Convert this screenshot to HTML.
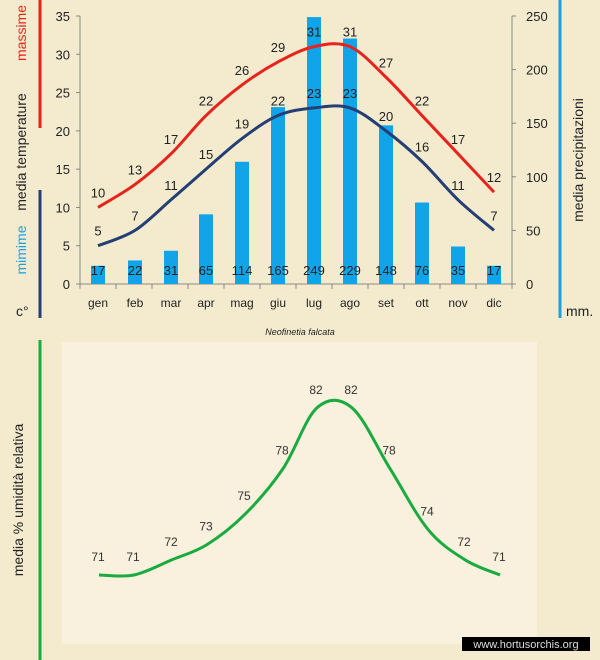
<!DOCTYPE html>
<html><head><meta charset="utf-8"><style>
body{margin:0;background:#f4ebcf;}
svg{display:block;font-family:"Liberation Sans",sans-serif;}
</style></head><body>
<svg id="s" width="600" height="660" xmlns="http://www.w3.org/2000/svg">
<rect width="600" height="660" fill="#f4ebcf"/>
<rect x="62" y="342" width="475" height="302" fill="#f9f1de"/>
<line x1="40" y1="0" x2="40" y2="128" stroke="#e8231c" stroke-width="3"/>
<line x1="40" y1="190" x2="40" y2="318" stroke="#243f73" stroke-width="3"/>
<line x1="40" y1="340" x2="40" y2="660" stroke="#1aab40" stroke-width="3"/>
<line x1="560" y1="0" x2="560" y2="318" stroke="#1ba0e0" stroke-width="3"/>
<text transform="translate(26,33) rotate(-90)" text-anchor="middle" font-size="14" fill="#e8231c">massime</text>
<text transform="translate(26,152) rotate(-90)" text-anchor="middle" font-size="14" fill="#222">media  temperature</text>
<text transform="translate(26,250) rotate(-90)" text-anchor="middle" font-size="14" fill="#1ba0e0">mimime</text>
<text x="16" y="316" font-size="14" fill="#222">c°</text>
<text transform="translate(583,160) rotate(-90)" text-anchor="middle" font-size="14" fill="#222">media  precipitazioni</text>
<text x="566" y="316" font-size="14" fill="#222">mm.</text>
<text x="300" y="335" text-anchor="middle" font-size="9" font-style="italic" fill="#222">Neofinetia falcata</text>
<text transform="translate(23,500) rotate(-90)" text-anchor="middle" font-size="14" fill="#222">media %  umidità relativa</text>
<rect x="462" y="637" width="128" height="14" fill="#000"/>
<text x="526" y="648" text-anchor="middle" font-size="11" fill="#ddd">www.hortusorchis.org</text>
<g id="g"></g>
</svg>
<script>
var g=document.getElementById('g'),h='';
var xs=[98,135,171,206,242,278,314,350,386,422,458,494];
var mo=['gen','feb','mar','apr','mag','giu','lug','ago','set','ott','nov','dic'];
var mx=[10,13,17,22,26,29,31,31,27,22,17,12],mn=[5,7,11,15,19,22,23,23,20,16,11,7];
var pr=[17,22,31,65,114,165,249,229,148,76,35,17];
var ty=v=>284-7.657*v, py=v=>284-1.072*v;
h+='<line x1="80" y1="16" x2="80" y2="284" stroke="#888"/>';
h+='<line x1="80" y1="284" x2="512" y2="284" stroke="#888"/>';
h+='<line x1="512" y1="16" x2="512" y2="284" stroke="#888"/>';
for(var i=0;i<=7;i++){var y=ty(i*5);h+='<line x1="76" y1="'+y+'" x2="80" y2="'+y+'" stroke="#888"/><text x="70" y="'+(y+5)+'" text-anchor="end" font-size="13" fill="#222">'+i*5+'</text>';}
for(var i=0;i<=5;i++){var y=py(i*50);h+='<line x1="512" y1="'+y+'" x2="516" y2="'+y+'" stroke="#888"/><text x="526" y="'+(y+5)+'" font-size="13" fill="#222">'+i*50+'</text>';}
for(var i=0;i<=12;i++){var x=80+i*36;h+='<line x1="'+x+'" y1="284" x2="'+x+'" y2="289" stroke="#888"/>';}
for(var i=0;i<12;i++){h+='<rect x="'+(xs[i]-7)+'" y="'+py(pr[i])+'" width="14" height="'+(284-py(pr[i]))+'" fill="#12a4e8"/>';
h+='<text x="'+xs[i]+'" y="307" text-anchor="middle" font-size="12" fill="#222">'+mo[i]+'</text>';
h+='<text x="'+xs[i]+'" y="275" text-anchor="middle" font-size="13" fill="#222">'+pr[i]+'</text>';}
function path(P){var d='M'+P[0][0]+','+P[0][1];for(var i=0;i<P.length-1;i++){var p0=P[i-1]||P[i],p1=P[i],p2=P[i+1],p3=P[i+2]||p2;
d+=' C'+(p1[0]+(p2[0]-p0[0])/6)+','+(p1[1]+(p2[1]-p0[1])/6)+' '+(p2[0]-(p3[0]-p1[0])/6)+','+(p2[1]-(p3[1]-p1[1])/6)+' '+p2[0]+','+p2[1];}return d;}
h+='<path d="'+path(xs.map((x,i)=>[x,ty(mx[i])]))+'" fill="none" stroke="#e8231c" stroke-width="3"/>';
h+='<path d="'+path(xs.map((x,i)=>[x,ty(mn[i])]))+'" fill="none" stroke="#243f73" stroke-width="3"/>';
for(var i=0;i<12;i++){h+='<text x="'+xs[i]+'" y="'+(ty(mx[i])-10)+'" text-anchor="middle" font-size="13" fill="#222">'+mx[i]+'</text>';
h+='<text x="'+xs[i]+'" y="'+(ty(mn[i])-10)+'" text-anchor="middle" font-size="13" fill="#222">'+mn[i]+'</text>';}
var hx=[99,134,172,207,245,283,317,352,390,428,465,500],hv=[71,71,72,73,75,78,82,82,78,74,72,71];
var hy=v=>575-15.2*(v-71);
h+='<path d="'+path(hx.map((x,i)=>[x,hy(hv[i])]))+'" fill="none" stroke="#1aab40" stroke-width="3"/>';
for(var i=0;i<12;i++){h+='<text x="'+(hx[i]-1)+'" y="'+(hy(hv[i])-14)+'" text-anchor="middle" font-size="12" fill="#333">'+hv[i]+'</text>';}
g.innerHTML=h;
</script>
</body></html>
